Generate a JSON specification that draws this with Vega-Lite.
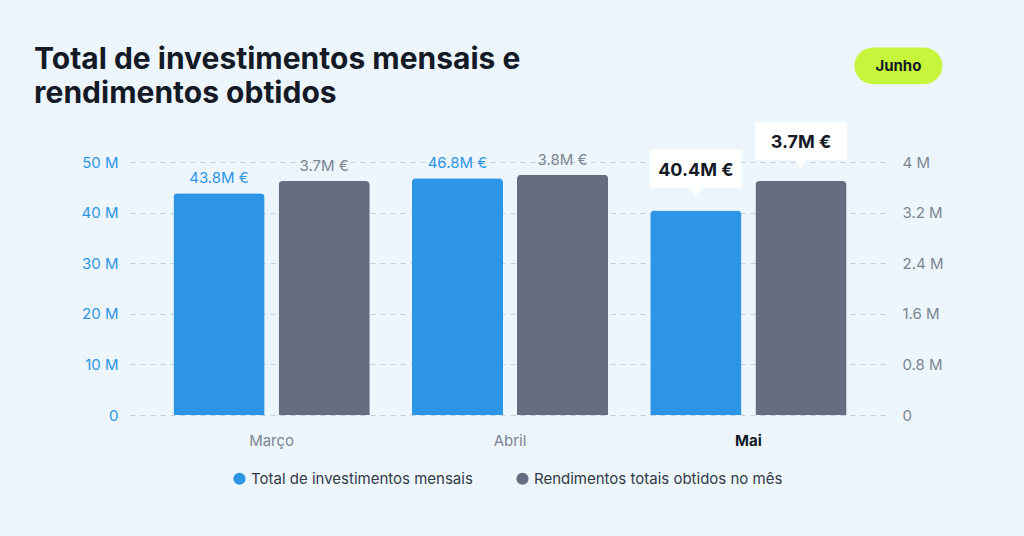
{
  "$schema": "https://vega.github.io/schema/vega-lite/v6.json",
  "width": 760,
  "height": 253,
  "autosize": "none",
  "padding": {"left": 130, "top": 162, "right": 134, "bottom": 121},
  "background": "#eef6fd",
  "title": {
    "text": ["Total de investimentos mensais e", "rendimentos obtidos"],
    "anchor": "start",
    "dx": -47,
    "offset": -62,
    "fontSize": 30,
    "lineHeight": 34,
    "font": "Inter",
    "fontWeight": "bold",
    "color": "#141a26"
  },
  "data": {
    "values": [
      {"month": "Março", "series": "Total de investimentos mensais", "value": 43800000, "label": "43.8M €"},
      {"month": "Abril", "series": "Total de investimentos mensais", "value": 46800000, "label": "46.8M €"},
      {"month": "Mai", "series": "Total de investimentos mensais", "value": 40400000, "label": "40.4M €"},
      {"month": "Março", "series": "Rendimentos totais obtidos no mês", "value": 3700000, "label": "3.7M €"},
      {"month": "Abril", "series": "Rendimentos totais obtidos no mês", "value": 3800000, "label": "3.8M €"},
      {"month": "Mai", "series": "Rendimentos totais obtidos no mês", "value": 3700000, "label": "3.7M €"}
    ]
  },
  "encoding": {
    "x": {
      "field": "month", "type": "nominal", "sort": ["Março", "Abril", "Mai"],
      "scale": {"paddingInner": 0, "paddingOuter": 0.094},
      "axis": {
        "title": null, "labelAngle": 0, "domain": false, "ticks": false, "labelPadding": 18,
        "labelFontSize": 15, "labelFont": "Inter",
        "labelColor": {"expr": "datum.value == 'Mai' ? '#141a26' : '#7c8592'"},
        "labelFontWeight": {"expr": "datum.value == 'Mai' ? 'bold' : 'normal'"}
      }
    }
  },
  "layer": [
    {
      "transform": [{"filter": "datum.series == 'Total de investimentos mensais'"}],
      "encoding": {
        "y": {
          "field": "value", "type": "quantitative",
          "scale": {"domain": [0, 50000000]},
          "axis": {
            "title": null, "values": [0, 10000000, 20000000, 30000000, 40000000, 50000000],
            "labelExpr": "datum.value == 0 ? '0' : (datum.value / 1000000) + ' M'",
            "domain": false, "ticks": false, "labelPadding": 12, "labelFontSize": 15, "labelFont": "Inter",
            "labelColor": "#2d95e5", "gridColor": "#c5d0da", "gridDash": [5, 5]
          }
        }
      },
      "layer": [
        {
          "mark": {"type": "bar", "cornerRadiusTopLeft": 4, "cornerRadiusTopRight": 4},
          "encoding": {
            "xOffset": {
              "field": "series", "type": "nominal",
              "scale": {"domain": ["Total de investimentos mensais", "Rendimentos totais obtidos no mês"], "paddingInner": 0.133, "paddingOuter": 0.2}
            },
            "color": {
              "field": "series", "type": "nominal",
              "scale": {"domain": ["Total de investimentos mensais", "Rendimentos totais obtidos no mês"], "range": ["#2d95e5", "#646e80"]},
              "legend": {
                "title": null, "orient": "none", "legendX": 102, "legendY": 309, "direction": "horizontal",
                "symbolType": "circle", "symbolSize": 150, "labelFontSize": 15, "labelFont": "Inter",
                "labelColor": "#333a45", "columnPadding": 42, "labelLimit": 400
              }
            }
          }
        },
        {
          "transform": [{"filter": "datum.month != 'Mai'"}],
          "mark": {"type": "text", "dy": -15, "fontSize": 15, "font": "Inter", "color": "#2d95e5"},
          "encoding": {"xOffset": {"field": "series", "type": "nominal"}, "text": {"field": "label"}}
        },
        {
          "transform": [{"filter": "datum.month == 'Mai'"}],
          "mark": {"type": "point", "filled": true, "color": "white", "opacity": 1, "yOffset": -42, "size": 8464,
            "shape": "M-1,-0.41H1V0.41H0.12L0,0.61L-0.12,0.41H-1Z"},
          "encoding": {"xOffset": {"field": "series", "type": "nominal"}}
        },
        {
          "transform": [{"filter": "datum.month == 'Mai'"}],
          "mark": {"type": "text", "dy": -40, "fontSize": 18, "font": "Inter", "fontWeight": "bold", "color": "#141a26"},
          "encoding": {"xOffset": {"field": "series", "type": "nominal"}, "text": {"field": "label"}}
        },
        {
          "transform": [{"filter": "datum.month == 'Mai'"}],
          "mark": {"type": "point", "filled": true, "color": "#c6f53c", "opacity": 1, "xOffset": 150, "size": 7744,
            "shape": "M-0.58,-0.42H0.58A0.42,0.42 0 0 1 0.58,0.42H-0.58A0.42,0.42 0 0 1 -0.58,-0.42Z"},
          "encoding": {"y": {"datum": 69000000}}
        },
        {
          "transform": [{"filter": "datum.month == 'Mai'"}],
          "mark": {"type": "text", "dx": 150, "fontSize": 15, "font": "Inter", "fontWeight": "bold", "color": "#141a26", "text": "Junho"},
          "encoding": {"y": {"datum": 69000000}}
        }
      ]
    },
    {
      "transform": [{"filter": "datum.series == 'Rendimentos totais obtidos no mês'"}],
      "encoding": {
        "xOffset": {"field": "series", "type": "nominal"},
        "y": {
          "field": "value", "type": "quantitative",
          "scale": {"domain": [0, 4000000]},
          "axis": {
            "title": null, "orient": "right", "values": [0, 800000, 1600000, 2400000, 3200000, 4000000],
            "labelExpr": "datum.value == 0 ? '0' : (datum.value / 1000000) + ' M'",
            "domain": false, "ticks": false, "grid": false, "labelPadding": 12, "labelFontSize": 15, "labelFont": "Inter",
            "labelColor": "#7c8592"
          }
        }
      },
      "layer": [
        {
          "mark": {"type": "bar", "cornerRadiusTopLeft": 4, "cornerRadiusTopRight": 4},
          "encoding": {"color": {"field": "series", "type": "nominal"}}
        },
        {
          "transform": [{"filter": "datum.month != 'Mai'"}],
          "mark": {"type": "text", "dy": -15, "fontSize": 15, "font": "Inter", "color": "#7c8592"},
          "encoding": {"text": {"field": "label"}}
        },
        {
          "transform": [{"filter": "datum.month == 'Mai'"}],
          "mark": {"type": "point", "filled": true, "color": "white", "opacity": 1, "yOffset": -40, "size": 8464,
            "shape": "M-1,-0.41H1V0.41H0.12L0,0.61L-0.12,0.41H-1Z"}
        },
        {
          "transform": [{"filter": "datum.month == 'Mai'"}],
          "mark": {"type": "text", "dy": -38, "fontSize": 18, "font": "Inter", "fontWeight": "bold", "color": "#141a26"},
          "encoding": {"text": {"field": "label"}}
        }
      ]
    }
  ],
  "resolve": {"scale": {"y": "independent"}},
  "config": {"view": {"stroke": null}}
}
